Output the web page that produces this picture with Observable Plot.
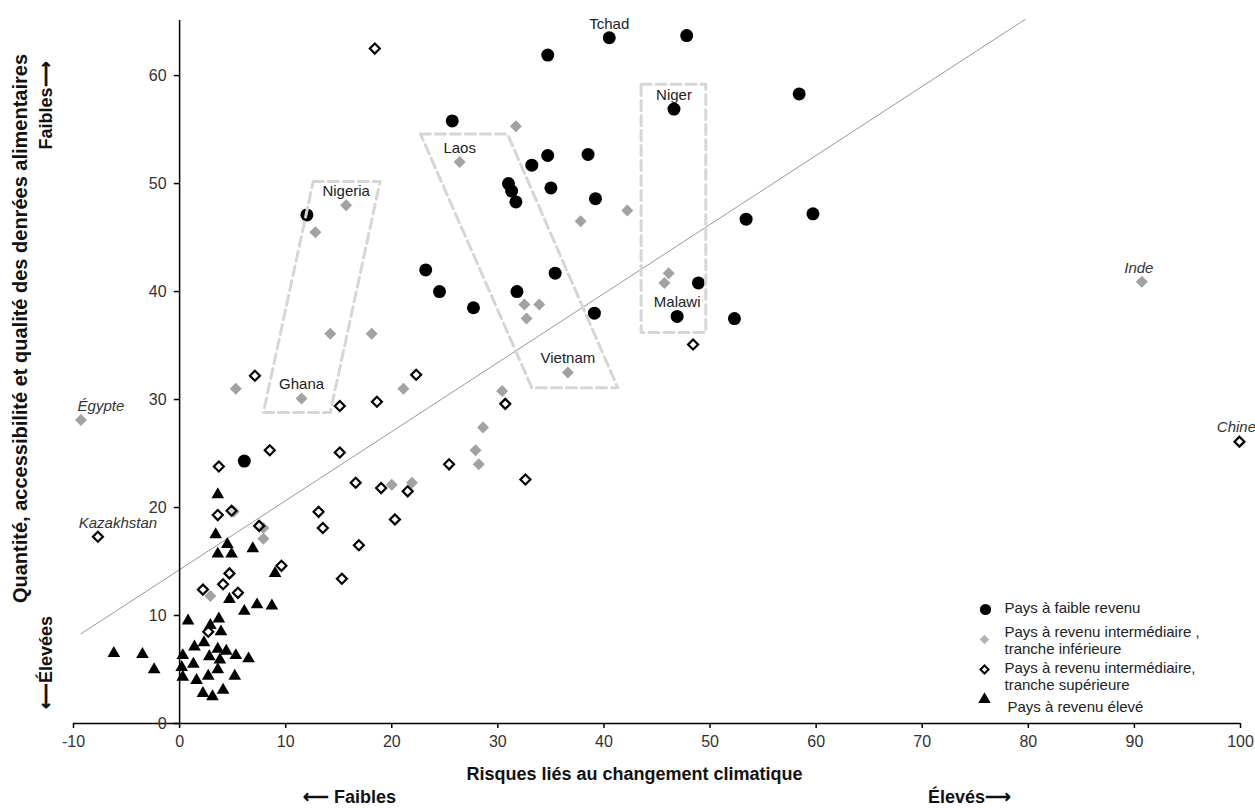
<!DOCTYPE html>
<html>
<head>
<meta charset="utf-8">
<script src="https://cdn.jsdelivr.net/npm/d3@7"></script>
<script src="https://cdn.jsdelivr.net/npm/@observablehq/plot@0.6"></script>
<style>
  html, body { margin: 0; padding: 0; background: #fff; }
</style>
</head>
<body>
<div id="chart"></div>
<script>
// ---------- Data ----------
const lowX = [40.5, 47.8, 34.7, 46.6, 58.4, 25.7, 34.7, 38.5, 33.2, 31.0, 31.3, 31.7, 35.0, 39.2, 53.4, 59.7, 23.2, 24.5, 27.7, 31.8, 35.4, 39.1, 48.9, 46.9, 52.3, 12.0, 6.1];
const lowY = [63.5, 63.7, 61.9, 56.9, 58.3, 55.8, 52.6, 52.7, 51.7, 50.0, 49.3, 48.3, 49.6, 48.6, 46.7, 47.2, 42.0, 40.0, 38.5, 40.0, 41.7, 38.0, 40.8, 37.7, 37.5, 47.1, 24.3];

const lowerMidX = [15.7, 12.8, 14.2, 18.1, 5.3, 11.5, 21.1, 31.7, 26.4, 42.2, 37.8, 46.1, 45.7, 32.5, 33.9, 32.7, 36.6, 30.4, 28.6, 27.9, 28.2, 20.0, 21.9, -9.3, 5.1, 7.9, 7.9, 2.9, 90.7];
const lowerMidY = [48.0, 45.5, 36.1, 36.1, 31.0, 30.1, 31.0, 55.3, 52.0, 47.5, 46.5, 41.7, 40.8, 38.8, 38.8, 37.5, 32.5, 30.8, 27.4, 25.3, 24.0, 22.1, 22.3, 28.1, 19.6, 17.1, 18.1, 11.8, 40.9];

const upperMidX = [18.4, 7.1, 15.1, 18.6, 8.5, 3.7, 15.1, 16.6, 19.0, 21.5, 20.3, 13.1, 13.5, 16.9, 15.3, 3.6, 4.9, 7.5, 9.6, 2.2, 4.1, 4.7, 5.5, 2.7, -7.7, 22.3, 30.7, 25.4, 32.6, 48.4, 99.9];
const upperMidY = [62.5, 32.2, 29.4, 29.8, 25.3, 23.8, 25.1, 22.3, 21.8, 21.5, 18.9, 19.6, 18.1, 16.5, 13.4, 19.3, 19.7, 18.3, 14.6, 12.4, 12.9, 13.9, 12.1, 8.5, 17.3, 32.3, 29.6, 24.0, 22.6, 35.1, 26.1];

const highX = [3.6, 3.4, 4.5, 3.6, 4.9, 6.9, 9.0, 4.7, 6.1, 7.3, 8.7, 0.8, 3.7, 2.9, 3.9, -6.2, -3.5, -2.4, 0.3, 1.4, 2.3, 2.8, 3.6, 4.4, 5.3, 6.5, 0.2, 1.3, 3.8, 0.3, 1.6, 2.7, 3.6, 5.2, 2.2, 3.1, 4.1];
const highY = [21.2, 17.5, 16.6, 15.7, 15.7, 16.2, 13.9, 11.5, 10.4, 11.0, 10.9, 9.5, 9.7, 9.1, 8.5, 6.5, 6.4, 5.0, 6.3, 7.1, 7.5, 6.2, 6.9, 6.7, 6.3, 6.0, 5.2, 5.5, 5.9, 4.3, 4.0, 4.4, 5.0, 4.4, 2.8, 2.5, 3.1];

// Trend line end points
const trendX = [-9.3, 79.7];
const trendY = [8.3, 65.2];

// Highlight boxes (corners, clockwise)
const boxNames = ["Nigeria-Ghana", "Laos-Vietnam", "Niger-Malawi"];
const boxCornersX = [[12.6, 18.9, 14.2, 7.9], [22.7, 30.9, 41.3, 33.2], [43.5, 49.6, 49.6, 43.5]];
const boxCornersY = [[50.2, 50.2, 28.8, 28.8], [54.6, 54.6, 31.1, 31.1], [59.2, 59.2, 36.2, 36.2]];

// Country labels
const labelNames = ["Tchad", "Niger", "Nigeria", "Ghana", "Laos", "Vietnam", "Malawi"];
const labelX = [40.5, 46.6, 15.7, 11.5, 26.4, 36.6, 46.9];
const labelY = [63.5, 56.9, 48.0, 30.1, 52.0, 32.5, 37.7];
const italicAboveNames = ["Inde", "Chine"];
const italicAboveX = [90.7, 99.9];
const italicAboveY = [40.9, 26.1];
const italicRightNames = ["Égypte", "Kazakhstan"];
const italicRightX = [-9.3, -7.7];
const italicRightY = [28.1, 17.3];

// Axis ticks
const xTicks = [-10, 0, 10, 20, 30, 40, 50, 60, 70, 80, 90, 100];
const yTicks = [0, 10, 20, 30, 40, 50, 60];
const yMax = 65.1;

// Texts
const xTitle = "Risques liés au changement climatique";
const yTitle = "Quantité, accessibilité et qualité des denrées alimentaires";
const xLow = "⟵ Faibles", xHigh = "Élevés⟶";
const yLow = "⟵Élevées", yHigh = "Faibles⟶";
const legendLabels = [
  "Pays à faible revenu",
  "Pays à revenu intermédiaire ,\ntranche inférieure",
  "Pays à revenu intermédiaire,\ntranche supérieure",
  "Pays à revenu élevé"
];

// ---------- Build tables ----------
const zip = (xs, ys) => xs.map((x, i) => ({x, y: ys[i]}));
const low = zip(lowX, lowY);
const lowerMid = zip(lowerMidX, lowerMidY);
const upperMid = zip(upperMidX, upperMidY);
const high = zip(highX, highY);
const trend = zip(trendX, trendY);
const boxes = boxNames.flatMap((name, b) => {
  const pts = boxCornersX[b].map((x, i) => ({box: name, x, y: boxCornersY[b][i]}));
  return [...pts, pts[0]];
});
const labels = zip(labelX, labelY).map((d, i) => ({...d, name: labelNames[i]}));
const labelsItalicAbove = zip(italicAboveX, italicAboveY).map((d, i) => ({...d, name: italicAboveNames[i]}));
const labelsItalicRight = zip(italicRightX, italicRightY).map((d, i) => ({...d, name: italicRightNames[i]}));

// ---------- Layout ----------
const W = 1255, H = 808, ML = 73, MR = 15, MT = 20, MB = 85;
const at = (px, py) => ({frameAnchor: "top-left", dx: px - ML, dy: py - MT});
const centered = {textAnchor: "middle", lineAnchor: "middle"};
const GRAY = "#a2a2a2";

const legendSymbols = [
  {symbol: "circle", r: 5.6, fill: "black", stroke: "none", strokeWidth: 0},
  {symbol: "diamond2", r: 4.3, fill: "#b5b5b5", stroke: "none", strokeWidth: 0},
  {symbol: "diamond2", r: 3.6, fill: "white", stroke: "black", strokeWidth: 2},
  {symbol: "triangle", r: 4.6, fill: "black", stroke: "none", strokeWidth: 0}
];
const legendSymPos = [[985, 609], [984, 639], [984, 669], [984, 699]];
const legendTextPos = [[1004, 607], [1004, 640], [1004, 676], [1007, 706]];

const legendMarks = legendLabels.flatMap((lab, i) => [
  Plot.dot([lab], {...at(...legendSymPos[i]), ...legendSymbols[i]}),
  Plot.text([lab], {...at(...legendTextPos[i]), textAnchor: "start", lineAnchor: "middle", fontSize: 15, fill: "#222", lineHeight: 1.13})
]);

const bold = {fontWeight: "bold", fill: "#111", ...centered};

const chart = Plot.plot({
  width: W, height: H,
  marginLeft: ML, marginRight: MR, marginTop: MT, marginBottom: MB,
  x: {domain: [-10, 100]},
  y: {domain: [0, yMax], axis: null},
  style: {fontFamily: "'Liberation Sans', Arial, Helvetica, sans-serif", fontSize: "15px", background: "white", color: "#222"},
  marks: [
    // trend line
    Plot.line(trend, {x: "x", y: "y", stroke: "#999", strokeWidth: 1}),
    // points
    Plot.dot(high, {x: "x", y: "y", symbol: "triangle", r: 4.7, fill: "black", stroke: "none"}),
    Plot.dot(lowerMid, {x: "x", y: "y", symbol: "diamond2", r: 5.4, fill: GRAY, stroke: "none"}),
    Plot.dot(upperMid, {x: "x", y: "y", symbol: "diamond2", r: 4.5, fill: "white", fillOpacity: 0.55, stroke: "black", strokeWidth: 2.2}),
    Plot.dot(low, {x: "x", y: "y", symbol: "circle", r: 6.5, fill: "black", stroke: "none"}),
    // highlight boxes
    Plot.line(boxes, {x: "x", y: "y", z: "box", stroke: "#d6d6d6", strokeWidth: 3, strokeDasharray: "10,5", curve: "linear"}),
    // axes
    Plot.ruleY([0], {stroke: "black", strokeWidth: 1.5}),
    Plot.ruleX([0], {stroke: "black", strokeWidth: 1.5}),
    Plot.axisX({ticks: xTicks, tickSize: 5, tickPadding: 7, fontSize: 16, label: null, stroke: "black", strokeWidth: 1.5, fill: "#333", tickFormat: d => String(d)}),
    Plot.ruleY(yTicks, {x1: -0.5, x2: 0, stroke: "black", strokeWidth: 1.5}),
    Plot.text(yTicks, {x: 0, y: d => d, text: d => String(d), dx: -13, textAnchor: "end", fontSize: 16, fill: "#333"}),
    // country labels
    Plot.text(labels, {x: "x", y: "y", text: "name", dy: -14, fontSize: 15, fill: "#222"}),
    Plot.text(labelsItalicAbove, {x: "x", y: "y", text: "name", dy: -14, dx: -3, fontSize: 15, fontStyle: "italic", fill: "#333"}),
    Plot.text(labelsItalicRight, {x: "x", y: "y", text: "name", dy: -13.5, dx: 20, fontSize: 15, fontStyle: "italic", fill: "#333"}),
    // titles
    Plot.text([xTitle], {...at(634, 774), fontSize: 18, ...bold}),
    Plot.text([xLow], {...at(349, 797), fontSize: 18, ...bold}),
    Plot.text([xHigh], {...at(969, 797), fontSize: 18, ...bold}),
    Plot.text([yTitle], {...at(20, 328), rotate: -90, fontSize: 20, ...bold}),
    Plot.text([yHigh], {...at(46, 105), rotate: -90, fontSize: 18, ...bold}),
    Plot.text([yLow], {...at(46, 662), rotate: -90, fontSize: 18, ...bold}),
    // legend
    ...legendMarks
  ]
});
document.getElementById("chart").appendChild(chart);
</script>
</body>
</html>
